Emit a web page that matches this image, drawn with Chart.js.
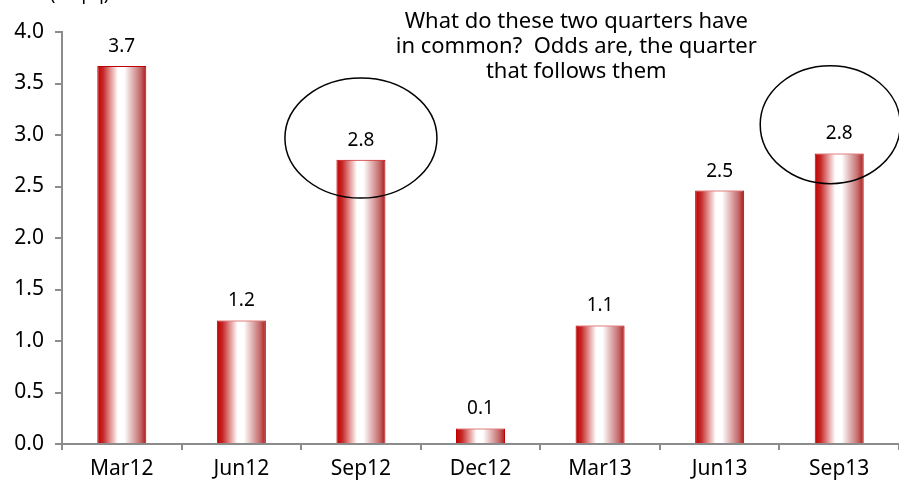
<!DOCTYPE html>
<html><head><meta charset="utf-8">
<script src="https://cdn.jsdelivr.net/npm/chart.js@4/dist/chart.umd.min.js"></script>
<style>html,body{margin:0;padding:0;background:#fff}#wrap{width:899px;height:481px}</style>
</head><body><div id="wrap"><canvas id="c" width="899" height="481"></canvas></div>
<script>
const categories = ['Mar12','Jun12','Sep12','Dec12','Mar13','Jun13','Sep13'];
const values = [3.67, 1.20, 2.76, 0.15, 1.15, 2.46, 2.82];
const valueLabels = ['3.7','1.2','2.8','0.1','1.1','2.5','2.8'];
const yTicks = [0,0.5,1,1.5,2,2.5,3,3.5,4];
const highlighted = ['Sep12','Sep13'];
const noteLines = ['What do these two quarters have','in common?  Odds are, the quarter','that follows them'];
const unitLabel = '(% q/q)';

const FONT = "'Noto Sans', 'Open Sans', sans-serif";
const BAR_FRAC = 0.41;

function barGradient(ctx){
  const chart = ctx.chart;
  const xs = chart.scales && chart.scales.x;
  if(!xs || !chart.chartArea || ctx.dataIndex === undefined) return '#c00000';
  const cx = xs.getPixelForValue(ctx.dataIndex);
  const w = (xs.width / categories.length) * BAR_FRAC;
  const g = chart.ctx.createLinearGradient(cx - w/2, 0, cx + w/2, 0);
  g.addColorStop(0, '#c00000');
  g.addColorStop(0.12, '#c62828');
  g.addColorStop(0.42, '#ffffff');
  g.addColorStop(0.55, '#ffffff');
  g.addColorStop(0.88, '#c46a6a');
  g.addColorStop(1, '#b01818');
  return g;
}

const overlay = {
  id:'overlay',
  afterDatasetsDraw(chart){
    const c = chart.ctx, xs = chart.scales.x, ys = chart.scales.y;
    c.save();
    c.fillStyle = '#000';
    c.font = '19px ' + FONT;
    c.textAlign = 'center';
    c.textBaseline = 'bottom';
    const meta = chart.getDatasetMeta(0);
    meta.data.forEach((bar,i)=>{
      c.fillText(valueLabels[i], bar.x, bar.y - 10);
    });
    c.strokeStyle = '#000';
    c.lineWidth = 1.5;
    highlighted.forEach((cat,k)=>{
      const i = categories.indexOf(cat);
      const bar = meta.data[i];
      const cx = bar.x - (k===0 ? 0 : 9);
      const cy = ys.getPixelForValue(k===0 ? 2.97 : 3.1);
      const rx = k===0 ? 76 : 70;
      const ry = k===0 ? 60 : 59;
      c.beginPath();
      c.ellipse(cx, cy, rx, ry, 0, 0, Math.PI*2);
      c.stroke();
    });
    c.font = '22px ' + FONT;
    c.textBaseline = 'middle';
    const nx = (xs.getPixelForValue(3) + xs.getPixelForValue(4)) / 2 + 36;
    noteLines.forEach((t,j)=>{ c.fillText(t, nx, 22 + j*25); });
    c.textAlign = 'left';
    c.textBaseline = 'alphabetic';
    c.font = '18px ' + FONT;
    c.fillText(unitLabel, 50, 0);
    c.restore();
  }
};

new Chart(document.getElementById('c'), {
  type:'bar',
  data:{ labels: categories, datasets:[{ data: values, backgroundColor: barGradient, borderColor:'#c00000', borderWidth:1, barPercentage:0.82, categoryPercentage:0.5 }]},
  options:{
    responsive:false, animation:false,
    layout:{ padding:{ top:32, right:0, bottom:0, left:0 } },
    plugins:{ legend:{display:false}, tooltip:{enabled:false} },
    scales:{
      x:{
        grid:{ offset:true, drawOnChartArea:false, tickLength:6, color:'#8c8c8c', lineWidth:2 },
        border:{ color:'#8c8c8c', width:2 },
        ticks:{ color:'#000', font:{ family:FONT, size:21 }, padding:6, maxRotation:0 },
        afterFit(s){ s.height = 37; }
      },
      y:{
        min:0, max:4,
        afterBuildTicks(s){ s.ticks = yTicks.map(v=>({value:v})); },
        grid:{ drawOnChartArea:false, tickLength:7, color:'#8c8c8c', lineWidth:2 },
        border:{ color:'#8c8c8c', width:2 },
        ticks:{ color:'#000', font:{ family:FONT, size:21 }, padding:11, callback:v=>v.toFixed(1) },
        afterFit(s){ s.width = 62; }
      }
    }
  },
  plugins:[overlay]
});
</script></body></html>
